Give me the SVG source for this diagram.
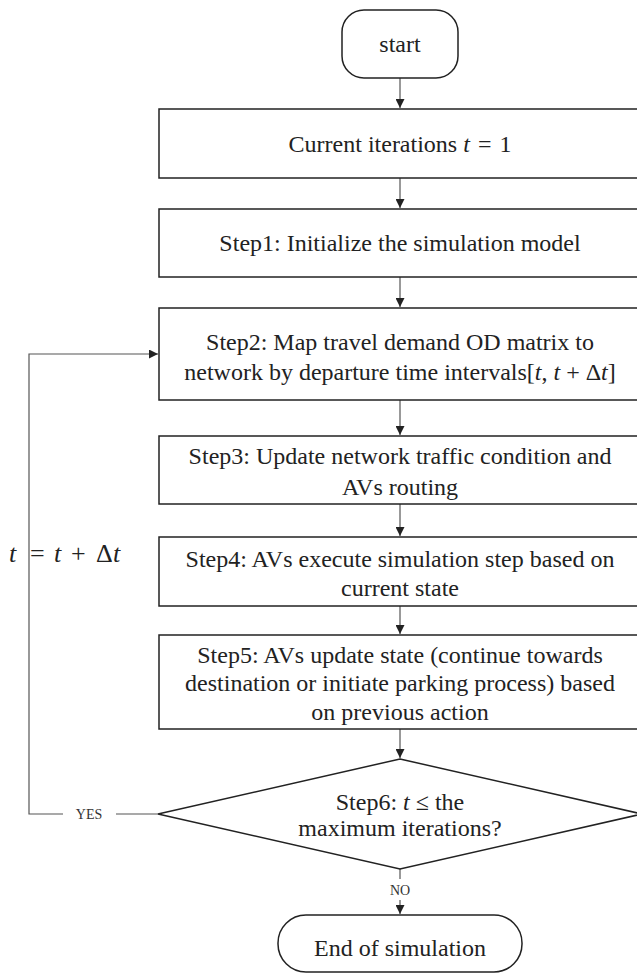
<svg xmlns="http://www.w3.org/2000/svg" width="637" height="974" viewBox="0 0 637 974">
<style>
  .box { fill: #fff; stroke: #222; stroke-width: 1.5; }
  .conn { fill: none; stroke: #555; stroke-width: 1.2; }
  .t { font-family: "Liberation Serif", "Times New Roman", serif; font-size: 24px; fill: #222; text-anchor: middle; }
  .m { font-style: italic; }
  .big { font-family: "Liberation Serif", "Times New Roman", serif; font-size: 26px; fill: #222; }
  .lbl { font-family: "Liberation Serif", "Times New Roman", serif; font-size: 14px; fill: #333; text-anchor: middle; }
</style>
<defs>
  <marker id="arr" viewBox="0 0 10 10" refX="10" refY="5" markerWidth="9" markerHeight="9" markerUnits="userSpaceOnUse" orient="auto">
    <path d="M0,0 L10,5 L0,10 Z" fill="#222"/>
  </marker>
</defs>
<rect width="637" height="974" fill="#fff"/>

<g id="connectors">
  <line class="conn" x1="400" y1="78" x2="400" y2="108" marker-end="url(#arr)"/>
  <line class="conn" x1="400" y1="178" x2="400" y2="208" marker-end="url(#arr)"/>
  <line class="conn" x1="400" y1="277" x2="400" y2="307" marker-end="url(#arr)"/>
  <line class="conn" x1="400" y1="400" x2="400" y2="435" marker-end="url(#arr)"/>
  <line class="conn" x1="400" y1="504" x2="400" y2="536" marker-end="url(#arr)"/>
  <line class="conn" x1="400" y1="606" x2="400" y2="634" marker-end="url(#arr)"/>
  <line class="conn" x1="400" y1="729" x2="400" y2="758" marker-end="url(#arr)"/>
  <line class="conn" x1="400" y1="869" x2="400" y2="879"/>
  <line class="conn" x1="400" y1="900" x2="400" y2="914" marker-end="url(#arr)"/>
  <text class="lbl" x="400" y="895">NO</text>
  <polyline class="conn" points="158,814 116,814"/>
  <polyline class="conn" points="63,814 29,814 29,354 158,354" marker-end="url(#arr)"/>
  <text class="lbl" x="89" y="819">YES</text>
  <text class="big" y="562"><tspan class="m" x="9">t</tspan><tspan x="30">=</tspan><tspan class="m" x="54">t</tspan><tspan x="71">+</tspan><tspan x="96">Δ</tspan><tspan class="m" x="113">t</tspan></text>
</g>

<g id="start">
  <rect class="box" x="342" y="10" width="116" height="68" rx="22" ry="22"/>
  <text class="t" x="400" y="52">start</text>
</g>

<g id="init-iter">
  <rect class="box" x="159" y="109" width="482" height="69"/>
  <text class="t" x="400" y="152">Current iterations <tspan class="m">t</tspan><tspan dx="8">=</tspan><tspan dx="8">1</tspan></text>
</g>

<g id="step1">
  <rect class="box" x="159" y="209" width="482" height="68"/>
  <text class="t" x="400" y="251">Step1: Initialize the simulation model</text>
</g>

<g id="step2">
  <rect class="box" x="159" y="308" width="482" height="92"/>
  <text class="t" x="400" y="350">Step2: Map travel demand OD matrix to</text>
  <text class="t" x="400" y="380">network by departure time intervals[<tspan class="m">t</tspan>, <tspan class="m">t</tspan> + Δ<tspan class="m">t</tspan>]</text>
</g>

<g id="step3">
  <rect class="box" x="159" y="436" width="482" height="68"/>
  <text class="t" x="400" y="464">Step3: Update network traffic condition and</text>
  <text class="t" x="400" y="495">AVs routing</text>
</g>

<g id="step4">
  <rect class="box" x="159" y="537" width="482" height="69"/>
  <text class="t" x="400" y="567">Step4: AVs execute simulation step based on</text>
  <text class="t" x="400" y="596">current state</text>
</g>

<g id="step5">
  <rect class="box" x="159" y="635" width="482" height="94"/>
  <text class="t" x="400" y="663">Step5: AVs update state (continue towards</text>
  <text class="t" x="400" y="691">destination or initiate parking process) based</text>
  <text class="t" x="400" y="720">on previous action</text>
</g>

<g id="step6">
  <polygon class="box" points="400,759 642,814 400,869 158,814"/>
  <text class="t" x="400" y="810">Step6: <tspan class="m">t</tspan> ≤ the</text>
  <text class="t" x="400" y="836">maximum iterations?</text>
</g>

<g id="end">
  <rect class="box" x="278" y="915" width="244" height="57" rx="28" ry="28"/>
  <text class="t" x="400" y="956">End of simulation</text>
</g>
</svg>
